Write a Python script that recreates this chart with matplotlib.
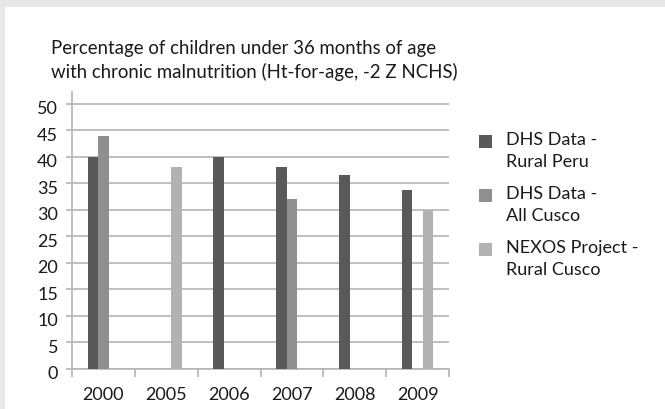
import matplotlib
matplotlib.use("Agg")
import matplotlib.pyplot as plt
import matplotlib.transforms as mtransforms
import numpy as np
from matplotlib.patches import Rectangle

# ───────────────────────────── Dados ───────────────────────────── #

ANOS = ["2000", "2005", "2006", "2007", "2008", "2009"]
SERIES = ["DHS Data -\nRural Peru", "DHS Data -\nAll Cusco", "NEXOS Project -\nRural Cusco"]
RURAL_PERU = [40, np.nan, 40, 38, 36.6, 33.8]
ALL_CUSCO = [44, np.nan, np.nan, 32, np.nan, np.nan]
NEXOS = [np.nan, 38, np.nan, np.nan, np.nan, 30]
Y_TICKS = [0, 5, 10, 15, 20, 25, 30, 35, 40, 45, 50]

TITULO = ("Percentage of children under 36 months of age\n"
          "with chronic malnutrition (Ht-for-age, -2 Z NCHS)")

CORES = ["#58595b", "#8e8f91", "#b1b2b4"]
COR_GRADE = "#b4b4b4"
COR_TEXTO = "#1a1a1a"
FONTE = "Lato"
TAM = 13

W, H = 665, 410   # tamanho em pixels


def fx(px):
    return px / W


def fy(px):   # px medido a partir do topo
    return 1 - px / H


# ──────────────────────────── Figura ───────────────────────────── #

plt.rcParams["font.family"] = [FONTE, "DejaVu Sans"]

fig = plt.figure(figsize=(W / 100, H / 100), dpi=100)
fig.patch.set_facecolor("#e8e8e8")
fig.patches.append(Rectangle((fx(5), 0), 1, fy(8), transform=fig.transFigure,
                             facecolor="white", edgecolor="none", zorder=-5))

ax = fig.add_axes([fx(72), 40 / H, fx(377), 277 / H])
ax.set_facecolor("none")

x = np.arange(len(ANOS))
larg = 1 / 6
for i, (vals, cor) in enumerate(zip([RURAL_PERU, ALL_CUSCO, NEXOS], CORES)):
    ax.bar(x + (i - 1) * larg, vals, larg, color=cor, zorder=3)

ax.set_xlim(-0.5, len(ANOS) - 0.5)
ax.set_ylim(0, 52.2)
ax.set_yticks(Y_TICKS)
ax.set_yticklabels([str(v) for v in Y_TICKS], fontsize=TAM)
ax.set_xticks(x)
ax.set_xticklabels(ANOS, fontsize=TAM)
ax.set_xticks(np.arange(len(ANOS) + 1) - 0.5, minor=True)

ax.grid(axis="y", color=COR_GRADE, linewidth=1.2, zorder=1)
for lado in ["top", "right"]:
    ax.spines[lado].set_visible(False)
for lado in ["left", "bottom"]:
    ax.spines[lado].set_color(COR_GRADE)
    ax.spines[lado].set_linewidth(1.2)

ax.tick_params(axis="y", length=4, color=COR_GRADE, width=1.2, pad=6, labelcolor=COR_TEXTO)
ax.tick_params(axis="x", which="major", length=0, pad=12, labelcolor=COR_TEXTO)
ax.tick_params(axis="x", which="minor", length=6, color=COR_GRADE, width=1.2)

# rótulos do eixo y ficam um pouco abaixo das linhas no original
desloc = mtransforms.ScaledTranslation(0, -3 / 100, fig.dpi_scale_trans)
for lbl in ax.get_yticklabels():
    lbl.set_transform(lbl.get_transform() + desloc)

fig.text(fx(51), fy(40), TITULO, ha="left", va="top", fontsize=13.4,
         linespacing=1.4, color=COR_TEXTO)

# legenda desenhada à mão: quadrado alinhado com a primeira linha do texto
for i, (nome, cor) in enumerate(zip(SERIES, CORES)):
    yc = 142 + 54 * i
    fig.patches.append(Rectangle((fx(479), fy(yc + 6.5)), fx(13), 13 / H,
                                 transform=fig.transFigure, facecolor=cor,
                                 edgecolor="none"))
    fig.text(fx(506), fy(yc - 10), nome, ha="left", va="top", fontsize=TAM,
             linespacing=1.45, color=COR_TEXTO)

fig.savefig("out.png", dpi=100)
